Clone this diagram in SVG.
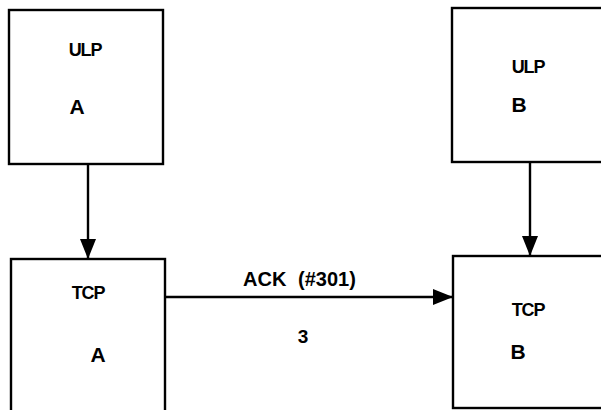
<svg xmlns="http://www.w3.org/2000/svg" width="601" height="410" viewBox="0 0 601 410">
<style>
.box{fill:#fff;stroke:#000;stroke-width:2.4}
.lbl{font-family:"Liberation Sans",Arial,sans-serif;font-weight:bold;fill:#000;text-anchor:middle}
.tight{font-size:18px;letter-spacing:-1.2px}
.big{font-size:21px}
.edge{stroke:#000;stroke-width:2.4;fill:none}
</style>
<defs>
<marker id="ah" markerUnits="userSpaceOnUse" viewBox="0 0 20 16" refX="20" refY="8" markerWidth="20" markerHeight="16" orient="auto">
<path d="M0,0 L20,8 L0,16 z" fill="#000"/>
</marker>
</defs>
<rect width="601" height="410" fill="#fff"/>
<g id="ulp-a">
<rect class="box" x="9" y="10" width="154" height="154"/>
<text class="lbl tight" x="85" y="56">ULP</text>
<text class="lbl big" x="77" y="114">A</text>
</g>
<g id="ulp-b">
<rect class="box" x="452" y="8" width="160" height="154"/>
<text class="lbl tight" x="528" y="73">ULP</text>
<text class="lbl big" x="519" y="112">B</text>
</g>
<g id="tcp-a">
<rect class="box" x="11" y="259" width="154" height="170"/>
<text class="lbl tight" x="88" y="299">TCP</text>
<text class="lbl big" x="98" y="362">A</text>
</g>
<g id="tcp-b">
<rect class="box" x="453" y="256" width="160" height="152"/>
<text class="lbl tight" x="528" y="316">TCP</text>
<text class="lbl big" x="518" y="359">B</text>
</g>
<g id="connectors">
<line class="edge" x1="88" y1="164" x2="88" y2="259" marker-end="url(#ah)"/>
<line class="edge" x1="530" y1="162" x2="530" y2="256" marker-end="url(#ah)"/>
<line class="edge" x1="165" y1="297" x2="453" y2="297" marker-end="url(#ah)"/>
<text class="lbl" x="243" y="286" style="font-size:20px;text-anchor:start">ACK <tspan x="298">(#301)</tspan></text>
<text class="lbl" x="303" y="343" style="font-size:19px">3</text>
</g>
</svg>
